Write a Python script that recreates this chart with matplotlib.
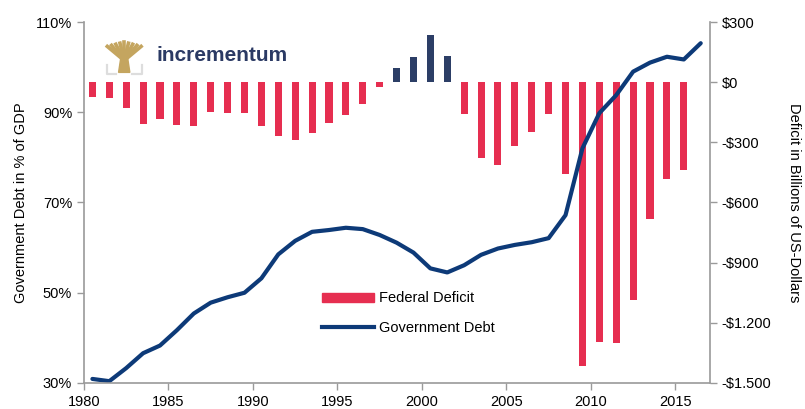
import numpy as np
import matplotlib.pyplot as plt
from matplotlib.patches import Rectangle, Polygon
from matplotlib.lines import Line2D

plt.rcParams['font.family'] = ['Liberation Sans', 'DejaVu Sans']

# government debt in % of GDP, 1980-2016
debt_years = np.arange(1980, 2017)
debt = [30.9, 30.4, 33.3, 36.6, 38.3, 41.7, 45.4, 47.8, 49.0, 50.0,
        53.2, 58.5, 61.5, 63.5, 63.9, 64.4, 64.1, 62.8, 61.1, 58.9,
        55.4, 54.5, 56.1, 58.4, 59.8, 60.6, 61.2, 62.1, 67.2, 82.0,
        89.8, 93.8, 99.0, 101.0, 102.3, 101.7, 105.3]

# federal deficit / surplus in billions of USD, 1980-2015
deficit_years = np.arange(1980, 2016)
deficit = [-74, -79, -128, -208, -185, -212, -221, -150, -155, -153,
           -221, -269, -290, -255, -203, -164, -107, -22, 69, 126,
           236, 128, -158, -378, -413, -318, -248, -161, -459, -1413,
           -1294, -1300, -1087, -680, -485, -438]

left_ticks = [30, 50, 70, 90, 110]
right_ticks = [300, 0, -300, -600, -900, -1200, -1500]
right_labels = ['$300', '$0', '-$300', '-$600', '-$900', '-$1.200', '-$1.500']
x_ticks = [1980, 1985, 1990, 1995, 2000, 2005, 2010, 2015]

red = '#E62E50'
navy_bar = '#2C3E66'
line_col = '#0D3A78'
grey = '#9A9A9A'
gold = '#C4A55F'

fig = plt.figure(figsize=(8.05, 4.09), dpi=100)
ax = fig.add_axes([0.1043, 0.0636, 0.7777, 0.8826])
ax2 = ax.twinx()

bar_cols = [navy_bar if v > 0 else red for v in deficit]
bars = ax2.bar(deficit_years + 0.5, deficit, width=0.42, color=bar_cols)
ln, = ax.plot(debt_years + 0.5, debt, color=line_col, lw=3, solid_capstyle='round')

ax.set_zorder(ax2.get_zorder() + 1)
ax.patch.set_visible(False)

ax.set_xlim(1980, 2017.05)
ax.set_ylim(30, 110)
ax2.set_ylim(-1500, 300)
ax.set_yticks(left_ticks)
ax.set_yticklabels([f'{t}%' for t in left_ticks])
ax2.set_yticks(right_ticks)
ax2.set_yticklabels(right_labels)
ax.set_xticks(x_ticks)

for a in (ax, ax2):
    a.spines['top'].set_visible(False)
    for s in ('left', 'right', 'bottom'):
        a.spines[s].set_color(grey)
        a.spines[s].set_linewidth(1.2)
    a.tick_params(colors=grey, labelcolor='black', labelsize=10.5, length=5, width=1)
ax.spines['right'].set_visible(False)
ax2.spines['left'].set_visible(False)
ax2.spines['bottom'].set_visible(False)

ax.set_ylabel('Government Debt in % of GDP', fontsize=10.5, labelpad=6)
ax2.set_ylabel('Deficit in Billions of US-Dollars', fontsize=10.5, rotation=270, labelpad=21)

leg_handles = [Rectangle((0, 0), 1, 1, color=red), Line2D([], [], color=line_col, lw=3)]
ax.legend(leg_handles, ['Federal Deficit', 'Government Debt'], frameon=False,
          loc='upper left', bbox_to_anchor=(0.36, 0.29), fontsize=10.5,
          handlelength=3.5, handleheight=0.6, labelspacing=1.06, handletextpad=0.4)

# logo
fig.text(0.195, 0.865, 'incrementum', fontsize=15, color='#2B3A64', va='center', fontweight='bold')
cx = 0.1543
fig.patches.append(Polygon([(cx - 0.007, 0.823), (cx + 0.007, 0.823), (cx + 0.004, 0.862), (cx - 0.004, 0.862)],
                           closed=True, transform=fig.transFigure, color=gold))
for dx in np.linspace(-0.021, 0.021, 9):
    fig.lines.append(Line2D([cx, cx + dx], [0.852, 0.897 - abs(dx) * 0.5],
                            transform=fig.transFigure, color=gold, lw=2.6))
fig.lines.append(Line2D([cx - 0.022, cx - 0.022, cx - 0.01], [0.84, 0.819, 0.819],
                        transform=fig.transFigure, color='#DDDDDD', lw=1.6))
fig.lines.append(Line2D([cx + 0.022, cx + 0.022, cx + 0.01], [0.84, 0.819, 0.819],
                        transform=fig.transFigure, color='#DDDDDD', lw=1.6))

fig.savefig('out.png', dpi=100)
